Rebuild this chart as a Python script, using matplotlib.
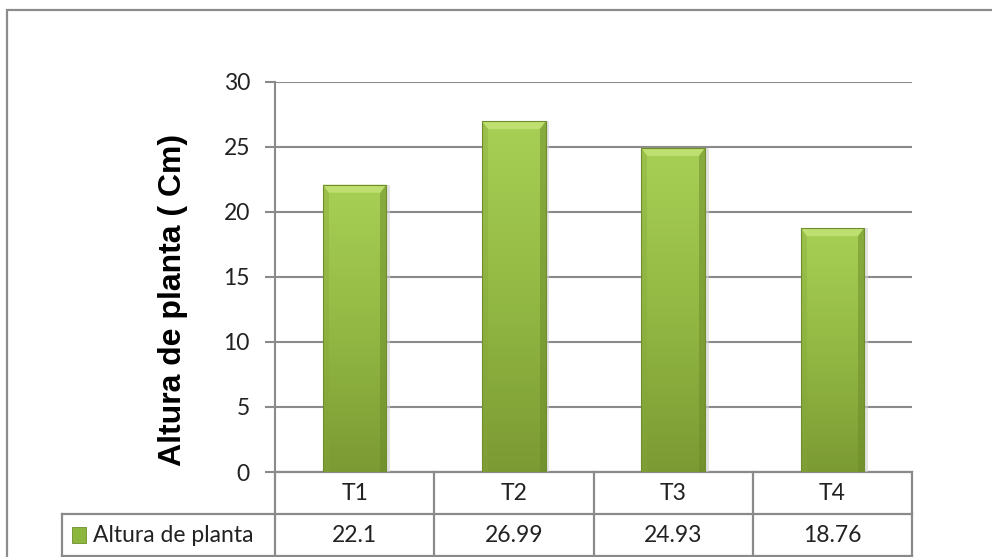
import numpy as np
import matplotlib
matplotlib.use("Agg")
import matplotlib.pyplot as plt
from matplotlib.patches import Polygon, Rectangle
from matplotlib.colors import LinearSegmentedColormap
import matplotlib.transforms as mtransforms

# dati
trattamenti = ["T1", "T2", "T3", "T4"]
altura = [22.1, 26.99, 24.93, 18.76]
etichette = ["22.1", "26.99", "24.93", "18.76"]
serie = "Altura de planta"

plt.rcParams["font.family"] = ["Lato", "DejaVu Sans"]

fig = plt.figure(figsize=(9.92, 5.57), dpi=100)
ax = fig.add_axes([0.2772, 0.1526, 0.6422, 0.7002])

# cornice esterna
fig.patches.append(Rectangle((7 / 992, -0.05), 1.2, 1 - 10 / 557 + 0.05,
                             transform=fig.transFigure, fill=False,
                             edgecolor="#8c8c8c", linewidth=1.6))

x = np.arange(len(trattamenti))
bars = ax.bar(x, altura, width=0.4, color="#94ba42", zorder=3)

ax.set_xlim(-0.5, len(trattamenti) - 0.5)
ax.set_ylim(0, 30)
ax.set_yticks(range(0, 31, 5))
ax.yaxis.grid(True, color="#8a8a8a", linewidth=1.5, zorder=0)
ax.set_axisbelow(True)
for s in ["top", "right", "bottom"]:
    ax.spines[s].set_visible(False)
ax.spines["left"].set_color("#8a8a8a")
ax.spines["left"].set_linewidth(1.5)
ax.tick_params(axis="y", length=7, width=1.5, color="#8a8a8a", pad=11,
               labelsize=16.5, labelcolor="#222222")
ax.tick_params(axis="x", length=0, labelbottom=False)
ax.set_ylabel("Altura de planta ( Cm)", fontsize=23, fontweight="bold",
              family="Liberation Sans")
ax.yaxis.set_label_coords(-0.137, 0.44)

# sfumatura e smussatura delle barre
cmap = LinearSegmentedColormap.from_list("verde", ["#7b9a33", "#93b944", "#a8cf55"])
grad = np.linspace(0, 1, 256).reshape(-1, 1)
fig.canvas.draw()
inv = ax.transData.inverted()
p0 = inv.transform((0, 0))
p1 = inv.transform((6, 8))
dx, dy = p1[0] - p0[0], p1[1] - p0[1]
for b in bars:
    x0, w, h = b.get_x(), b.get_width(), b.get_height()
    im = ax.imshow(grad, extent=(x0, x0 + w, 0, h), origin="lower",
                   cmap=cmap, aspect="auto", zorder=3.5)
    im.set_clip_path(b)
    # ombra a destra
    ax.add_patch(Rectangle((x0 + w, 0), dx * 0.6, h, color="#d0d0d0",
                           alpha=0.6, zorder=2.9, linewidth=0))
    # bordo superiore chiaro
    ax.add_patch(Polygon([(x0, h), (x0 + w, h), (x0 + w - dx, h - dy),
                          (x0 + dx, h - dy)], closed=True,
                         facecolor="#bfe070", edgecolor="none", zorder=4))
    # bordi laterali
    ax.add_patch(Polygon([(x0 + w, h), (x0 + w, 0), (x0 + w - dx, 0),
                          (x0 + w - dx, h - dy)], closed=True,
                         facecolor="#6b8a2a", alpha=0.5, edgecolor="none", zorder=4))
    ax.add_patch(Polygon([(x0, h), (x0, 0), (x0 + dx, 0), (x0 + dx, h - dy)],
                         closed=True, facecolor="#86a63a", alpha=0.35,
                         edgecolor="none", zorder=4))
    ax.add_patch(Rectangle((x0, 0), w, h, fill=False, edgecolor="#6f8d2c",
                           linewidth=0.8, zorder=4.5))

# tabella dati sotto il grafico
tr = mtransforms.blended_transform_factory(ax.transData, ax.transAxes)
riga = 42 / 390
sinistra = -0.5 - 213 / 159.25
destra = len(trattamenti) - 0.5
lc = dict(color="#8a8a8a", linewidth=1.6, transform=tr, clip_on=False)
ax.plot([-0.5, destra], [0, 0], **lc)
ax.plot([sinistra, destra], [-riga, -riga], **lc)
ax.plot([sinistra, destra], [-2 * riga, -2 * riga], **lc)
ax.plot([sinistra, sinistra], [-riga, -2 * riga], **lc)
for k in range(len(trattamenti) + 1):
    ax.plot([k - 0.5, k - 0.5], [0, -2 * riga], **lc)
for k, (t, v) in enumerate(zip(trattamenti, etichette)):
    ax.text(k, -riga / 2, t, transform=tr, ha="center", va="center",
            fontsize=16.5, color="#222222")
    ax.text(k, -1.5 * riga, v, transform=tr, ha="center", va="center",
            fontsize=16.5, color="#222222")

# legenda nella tabella
ax.add_patch(Rectangle((sinistra + 0.065, -1.5 * riga - 0.02), 0.085, 0.04,
                       transform=tr, clip_on=False, facecolor="#8db63e",
                       edgecolor="#6f8d2c", linewidth=0.6))
ax.text(sinistra + 0.195, -1.5 * riga, serie, transform=tr, ha="left",
        va="center", fontsize=16.5, color="#222222")

plt.savefig("out.png", dpi=100)
